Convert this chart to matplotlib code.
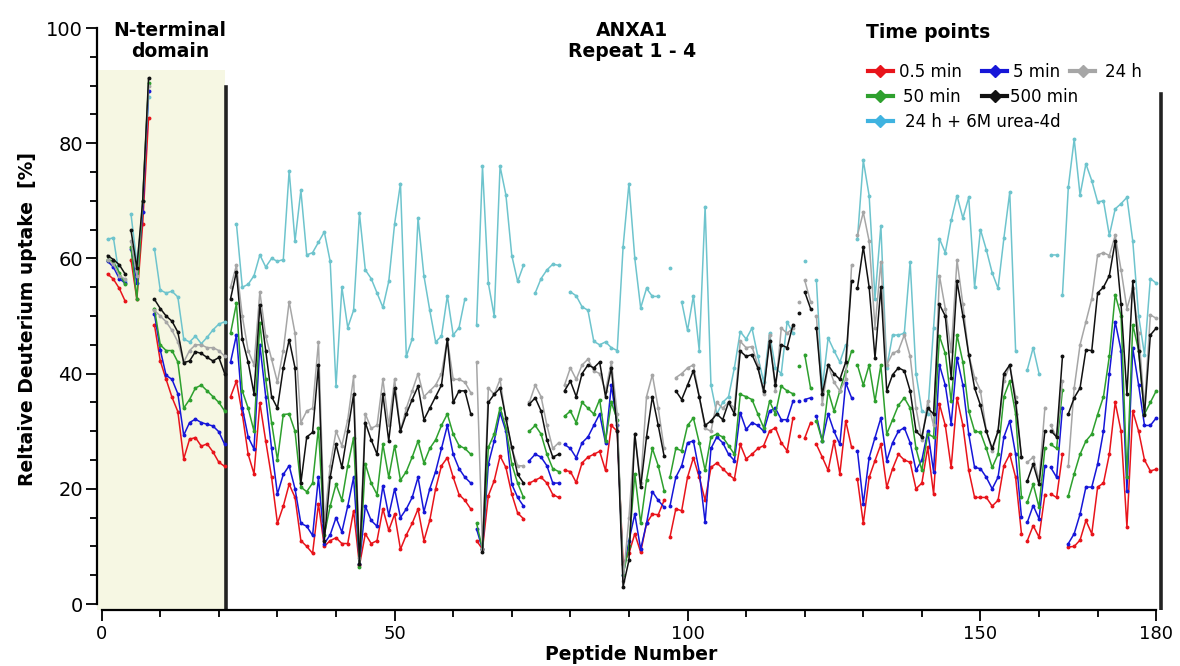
import numpy as np
import matplotlib
matplotlib.use('Agg')
import matplotlib.pyplot as plt
from matplotlib.lines import Line2D
from matplotlib.patches import Rectangle

nan = np.nan
peptides = np.arange(1, 181)

# relative deuterium uptake [%] per peptide 1..180 (nan = not covered)
t_05min = [57.3, 56.4, 54.8, 52.6, 59.8, 52.9, 66, 84.4, 48.5, 42.2,
           39, 35.9, 33.4, 25.2, 28.6, 28.9, 27.4, 27.8, 26.4, 24.6,
           23.9, 36, 38.7, 33, 26, 22.6, 34.9, 28.3, 22, 14,
           17, 20.8, 18.5, 11, 10, 8.8, 17.4, 10, 11, 11.5,
           10.5, 10.5, 16.2, 6.7, 12.2, 10.5, 11, 16.5, 12.8, 15.6,
           9.5, 12, 14, 16.5, 11, 14.5, 20, 24, 25.4, 22,
           19, 18, 16.5, 11, 9.5, 18.8, 21.4, 25.7, 23.7, 19.1,
           15.8, 14.8, 21, 21.5, 22, 21, 19, 18.5, 23.2, 23,
           21.1, 24.5, 25.5, 26, 26.5, 23.2, 31, 30, 7, 8.8,
           12.2, 9, 14, 15.6, 15.5, 18, 11.6, 16.5, 16.2, 22,
           25.4, 22, 18, 23.7, 24.5, 23.5, 22.5, 21.7, 27.7, 25.2,
           26, 27, 27.5, 30, 30.6, 28, 26.6, 32.3, 29.2, 28.8,
           31.5, 27.7, 25.5, 23.2, 28.3, 22.6, 31.8, 27.2, 21.7, 14,
           22, 24.9, 27.7, 20.3, 23.5, 26, 25, 24.6, 20, 21,
           27.2, 19.1, 34.7, 31, 23.7, 35.8, 31, 23.2, 18.5, 18.5,
           18.5, 17, 18, 24, 26, 22, 12.2, 11, 13.6, 11.6,
           19, 19.1, 18.5, 26, 9.9, 10, 11.1, 14.5, 12.2, 20.3,
           21, 26, 35, 30, 13.4, 33.5, 30, 25, 23.1, 23.4]

t_5min = [59.5, 58.5, 56.5, 55.7, 61.7, 55.7, 68, 89.1, 50.4, 44.1,
          39.7, 39, 36.5, 29.3, 31.5, 32.1, 31.5, 31.2, 30.9, 29.9,
          27.7, 42, 46.7, 34.1, 29, 26.9, 45, 36, 27, 19.1,
          22.5, 24, 20, 14, 13.5, 11.9, 22, 10.5, 12, 15,
          12.5, 17, 22, 7, 17, 14.5, 13.5, 20.5, 15.4, 20,
          15, 16.5, 18.5, 22, 16, 20, 23, 27, 31, 26,
          23.5, 22, 21, 13, 9.5, 24.3, 28.3, 33.2, 30, 20.8,
          18.5, 17, 24.9, 26, 25.5, 24, 21, 21, 27.7, 27,
          25.4, 28, 29, 31, 33, 28, 38, 31, 5, 11,
          15.6, 9.5, 14, 19.5, 18, 16.8, 17, 22, 24, 28,
          28.3, 23, 14.2, 27, 29, 28, 26, 24.9, 33.2, 30.3,
          31.5, 31, 30, 33.5, 34, 32, 32, 35.2, 35.2, 35.5,
          35.8, 32.6, 28.3, 33, 30, 27.7, 38.4, 35.8, 26.6, 17.4,
          25.4, 28.9, 32.3, 24.9, 28, 30, 30.6, 28, 23.2, 25,
          30, 23, 41.5, 38, 31.2, 42.7, 38, 29.5, 23.7, 23.5,
          22, 20, 22, 29, 31.8, 26, 15.1, 14.2, 17.1, 14.8,
          24, 23.7, 22, 34.1, 10.5, 12.2, 15.6, 20.3, 20.3, 24.3,
          30, 40, 49, 44, 19.7, 44.4, 38, 31, 31, 32.3]

t_50min = [59.8, 59.5, 57.5, 55.5, 62, 52.9, 70, 90.4, 51.3, 45,
           44, 44, 42, 34, 35.5, 37.5, 38, 37, 36, 35,
           33.5, 47, 52.2, 37, 34, 30, 48.8, 39, 31.5, 25,
           32.9, 33, 30, 20.3, 19.5, 21, 30.6, 12, 17, 20.8,
           18, 24, 28.9, 6.5, 24.3, 21, 19, 27.7, 22, 27.5,
           21.5, 23, 25.5, 28.3, 24.5, 27, 28.5, 31, 33, 29.5,
           27.5, 27, 26, 14, 9.5, 27.2, 29.5, 34.1, 30.6, 24.3,
           21, 18.5, 30, 31, 29.5, 26, 23.5, 23, 32.6, 33.5,
           31.5, 35, 34, 33, 35.5, 28.3, 35, 32, 5, 10,
           22.6, 14, 21.5, 27, 24, 19.7, 22, 27, 26.6, 31,
           32.3, 28, 23.2, 29, 29.5, 29, 27.5, 26, 36.4, 36,
           35.5, 33, 30.6, 35.2, 33, 37.8, 37, 36.5, 41.3, 43.3,
           37.5, 31.8, 28.3, 37, 33.5, 37, 40.5, 43.9, 41.5, 38,
           41.5, 35.2, 41.5, 29.5, 32, 34.5, 35.8, 34, 27, 23.2,
           29.5, 29, 46.5, 43.5, 35.2, 46.7, 42, 33.5, 30, 29.8,
           27, 23.7, 26, 36, 38.7, 33, 18.5, 17.7, 20.8, 16.8,
           27, 27.7, 27, 37.2, 18.8, 22.6, 26, 28.3, 29.5, 32.9,
           36, 43, 53.7, 50, 22, 48.5, 44, 33, 35, 37]

t_500min = [60.5, 59.8, 58.9, 57.3, 64.9, 58.3, 70, 91.3, 52.9, 51.3,
            50, 49.1, 47.2, 41.9, 42.2, 43.8, 43.5, 42.8, 42.2, 42.8,
            40, 53, 57.7, 46, 42, 36.5, 51.9, 44, 36, 34,
            41, 45.9, 41, 21, 29, 29.8, 41.5, 11, 22, 27.7,
            23.7, 30, 36.4, 7, 31.5, 28.5, 26, 36.4, 28.3, 37.5,
            30, 33, 35.5, 37.8, 32, 34, 36, 38, 46, 35,
            37, 37, 33, nan, 9, 35, 36.4, 37.5, 32.3, 27.2,
            22.5, 21, 34.7, 35.8, 33.5, 28.5, 25.5, 26, 37, 38.7,
            36, 40, 41.5, 41, 42, 36, 41, 30, 3, 7.6,
            29.5, 20.3, 29, 36, 31, 25.7, nan, 37, 35.5, 38,
            40.5, 36, 31, 31.8, 33, 32, 35, 33, 43.9, 43,
            43.3, 41, 37, 45.6, 38, 45, 44.5, 48.5, 50.5, 54.2,
            51.3, 47.9, 36.4, 41.5, 40, 39, 42, 56, 54.8, 62,
            55, 42.7, 55, 37, 39.8, 41, 40.5, 37, 30, 29,
            34, 33, 52, 50, 39.3, 56, 50, 43.3, 37.5, 34.5,
            30, 27, 30, 40, 41.5, 35, 25.5, 21.4, 24.3, 20.8,
            30, 30.1, 29, 43, 33, 35.8, 37.5, 44.1, 44, 54,
            55, 57, 63, 52, 36.4, 56, 44, 32.9, 46.7, 47.9]

t_24h = [59.8, 59, 57, 56.4, 63, 57, 70, 90, 51, 50,
         49, 47.5, 45.5, 42, 44, 45, 45, 44.5, 44.5, 44,
         43, 55, 58.8, 50, 44, 41.5, 54.2, 46.5, 42.5, 38.5,
         44, 52.5, 47, 31.5, 33.5, 34, 45.5, 14, 24, 30,
         27.5, 32, 39.5, 8, 33, 30.5, 31, 39, 31, 39,
         30, 34, 37, 40, 36, 37, 38, 40, 46, 39,
         39, 38.5, 36.7, 42, 9.5, 37.5, 36.4, 39, 32, 27,
         24, 24, 35, 38, 36, 31, 27, 28, 38, 41,
         39, 41.5, 42.5, 40.5, 40, 37, 42, 33, 4, 15,
         29.5, 21, 36, 39.8, 34, 27, nan, 39.3, 40, 41,
         41.5, 36, 30.5, 30, 35, 34, 35, 34, 45.6, 44.5,
         44.7, 41.5, 36.4, 46.7, 37, 47.9, 47, 47.9, 52.5, 56.2,
         52.5, 50, 34.7, 41.5, 38.5, 37, 39, 58.8, 64, 68,
         63, 48, 59.4, 41.5, 43.5, 44, 46.7, 43, 34, 28.5,
         35.2, 31, 57, 51.3, 43.9, 59.7, 52, 43.3, 39.3, 37,
         30.1, 26.6, 30, 38.7, 41.5, 36, 25.5, 24.6, 25.5, 21.4,
         34.1, 31, 29, 38.7, 24, 37.5, 45, 49, 53, 60.6,
         61, 60.5, 64, 58, 51.3, 54.8, 47, 34.1, 50.2, 49.6]

t_24h_urea = [63.3, 63.6, 57, 56, 67.7, 59.2, 68, 88, 61.7, 54.5,
              54, 54.3, 53.3, 46, 45.5, 46.5, 45.2, 46.3, 47.6, 48.6,
              49, nan, 66, 55, 55.5, 57, 60.6, 58.5, 60, 59.5,
              59.8, 75.2, 63, 71.8, 60.6, 61, 62.8, 64.6, 59.5, 37.8,
              55, 48, 51, 67.8, 58, 56.5, 54, 51.5, 56, 66,
              73, 43, 46, 67, 57, 51, 45.5, 46.5, 53.5, 46.7,
              48, 53, nan, 48.5, 76, 55.7, 50, 76, 71, 60.5,
              56, 58.8, nan, 54, 56.5, 58, 59, 58.8, nan, 54.2,
              53.5, 51.6, 51, 45.6, 45, 45.5, 44.5, 44, 62, 73,
              60, 51.4, 54.8, 53.4, 53.4, nan, 58.3, nan, 52.5, 47.5,
              53.5, 44, 69, 38, 33, 35, 36, 41, 47.3, 46,
              47.9, 43, 38.5, 47, 41, 40, 49, 47, nan, 59.5,
              nan, 56.2, 37.5, 46.2, 44, 42, 45, nan, 63.4, 77,
              70.9, 53, 65.7, 41, 46.7, 46.7, 47, 59.4, 40, 33.5,
              33, 48, 63.4, 61, 66.6, 70.9, 67, 70.6, 55, 65,
              61.5, 57.5, 54.8, 63.5, 71.5, 44, nan, 40.7, 44.5, 40,
              nan, 60.6, 60.6, 53.7, 72.4, 80.7, 71, 76.4, 73.5, 69.8,
              70, 64, 68.6, 69.5, 70.6, 63, 50, 43.3, 56.5, 55.7]

# peptide numbers where a new (unconnected) line segment starts
breaks_tp = [5, 9, 22, 64, 73, 79, 97, 119, 120, 122, 129, 158, 162, 165]
breaks_urea = [5, 9, 164]

labels = ['0.5 min', '5 min', '24 h', '50 min', '500 min', '24 h + 6M urea-4d']


def draw_series(ax, y, color, breaks):
    y = np.array(y, dtype=float)
    starts = [1] + breaks + [181]
    for a, b in zip(starts[:-1], starts[1:]):
        ax.plot(peptides[a - 1:b - 1], y[a - 1:b - 1], color=color, lw=1.1,
                marker='o', ms=1.8, solid_joinstyle='round')


plt.rcParams['font.family'] = 'DejaVu Sans'

fig = plt.figure(figsize=(11.8, 6.66), dpi=100)
ax = fig.add_axes([97 / 1180, 56 / 666, 1068 / 1180, 582 / 666])
ax.set_xlim(-0.8, 181.5)
ax.set_ylim(-1.04, 100)

# N-terminal domain box and separators
ax.add_patch(Rectangle((-0.8, -1.04), 21.9, 93.8, color='#f6f7e3', lw=0, zorder=0))
ax.plot([21.3, 21.3], [-1.04, 89.8], color='#222222', lw=2.6)
ax.plot([180.9, 180.9], [-1.04, 88.5], color='#222222', lw=2.6)

draw_series(ax, t_24h_urea, '#6ec4cd', breaks_urea)
draw_series(ax, t_05min, '#e8141b', breaks_tp)
draw_series(ax, t_5min, '#1616d8', breaks_tp)
draw_series(ax, t_50min, '#2ea02e', breaks_tp)
draw_series(ax, t_24h, '#a6a6a6', breaks_tp)
draw_series(ax, t_500min, '#111111', breaks_tp)

for s in ['top', 'right']:
    ax.spines[s].set_visible(False)
ax.spines['left'].set_bounds(0, 100)
ax.spines['bottom'].set_bounds(0, 180)
ax.spines['left'].set_linewidth(1.6)
ax.spines['bottom'].set_linewidth(1.6)

ax.set_xticks([0, 50, 100, 150, 180])
ax.set_xticks(np.arange(10, 180, 10), minor=True)
ax.set_yticks([0, 20, 40, 60, 80, 100])
ax.set_yticks(np.arange(5, 100, 5), minor=True)
ax.tick_params(which='both', direction='out', width=1.4, color='#111111')
ax.tick_params(which='major', length=8)
ax.tick_params(which='minor', length=5)
ax.tick_params(axis='y', labelsize=14, pad=2)
ax.tick_params(axis='x', labelsize=13, pad=3)

ax.set_xlabel('Peptide Number', fontsize=13.5, fontweight='bold', labelpad=1)
ax.set_ylabel('Reltaive Deuterium uptake  [%]', fontsize=13.5, fontweight='bold', labelpad=7)

fig.text(170 / 1180, 1 - 41 / 666, 'N-terminal\ndomain', ha='center', va='center',
         fontsize=13.5, fontweight='bold', linespacing=1.15)
fig.text(632 / 1180, 1 - 41 / 666, 'ANXA1\nRepeat 1 - 4', ha='center', va='center',
         fontsize=13.5, fontweight='bold', linespacing=1.15)
fig.text(866 / 1180, 1 - 32 / 666, 'Time points', ha='left', va='center',
         fontsize=13.5, fontweight='bold')

# legend entries laid out like the original (3 rows)
legend_colors = ['#e8141b', '#1616d8', '#a6a6a6', '#2ea02e', '#111111', '#3fb3e0']
legend_pos = [(868, 72, 0.35), (982, 72, 0.35), (1070, 72, 0.6),
              (868, 97, 0.6), (982, 97, 0.15), (868, 122, 0.7)]
for lab, col, (px, py, pad) in zip(labels, legend_colors, legend_pos):
    h = Line2D([], [], color=col, lw=3, marker='D', ms=6.5)
    fig.legend(handles=[h], labels=[lab], loc='center left',
               bbox_to_anchor=(px / 1180, 1 - py / 666), frameon=False,
               borderpad=0, borderaxespad=0, handlelength=1.5,
               handletextpad=pad, fontsize=12)

fig.savefig('out.png', dpi=100)
